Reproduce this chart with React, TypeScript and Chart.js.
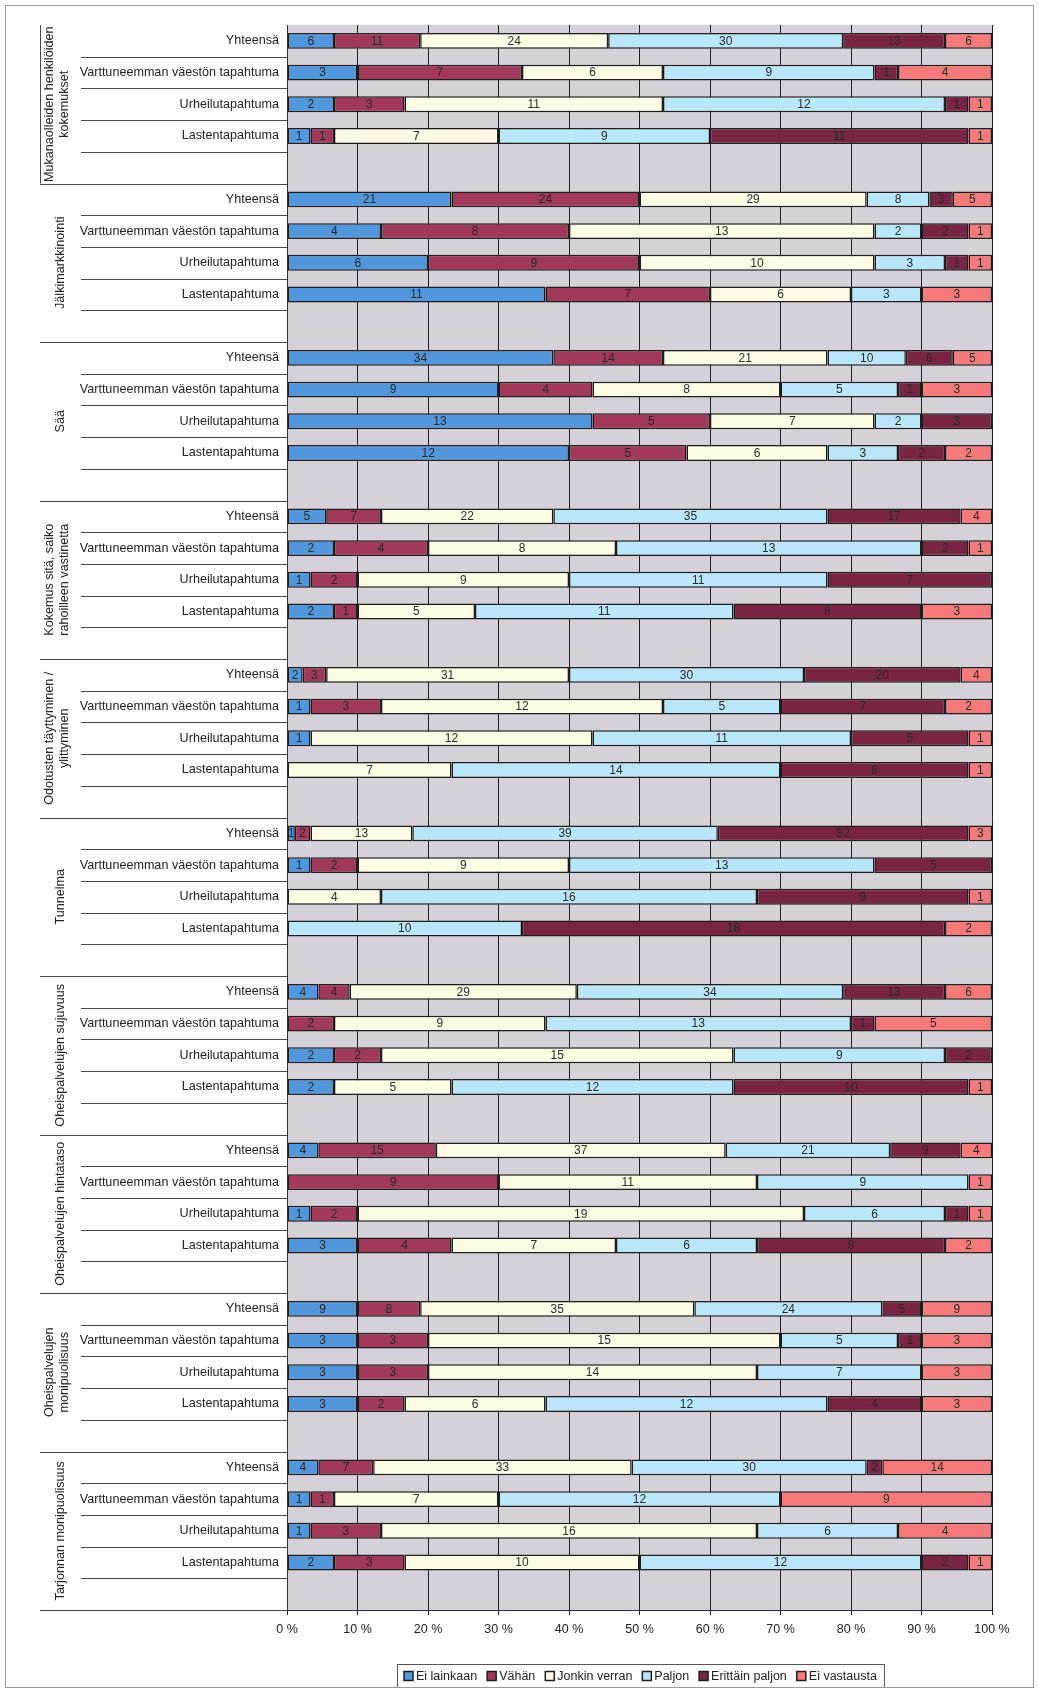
import React, { useEffect, useRef } from "react";
import { Chart, registerables } from "chart.js";

Chart.register(...registerables);

const FONT = '"Liberation Sans", Arial, sans-serif';

// Outer category level (one per block of rows)
const groupLabels = [
  ["Mukanaolleiden henkilöiden", "kokemukset"],
  ["Jälkimarkkinointi"],
  ["Sää"],
  ["Kokemus sitä, saiko", "rahoilleen vastinetta"],
  ["Odotusten täyttyminen /", "ylittyminen"],
  ["Tunnelma"],
  ["Oheispalvelujen sujuvuus"],
  ["Oheispalvelujen hintataso"],
  ["Oheispalvelujen", "monipuolisuus"],
  ["Tarjonnan monipuolisuus"],
];

// Inner category level (repeated inside every block)
const rowLabels = [
  "Yhteensä",
  "Varttuneemman väestön tapahtuma",
  "Urheilutapahtuma",
  "Lastentapahtuma",
];

const seriesNames = [
  "Ei lainkaan",
  "Vähän",
  "Jonkin verran",
  "Paljon",
  "Erittäin paljon",
  "Ei vastausta",
];

const seriesColors = ["#5296dc", "#a1395a", "#fdfbe4", "#b9e6f8", "#7a2444", "#f77a7a"];

// Answer counts, 4 rows per block (Yhteensä, Varttuneemman, Urheilu, Lasten)
const eiLainkaan = [
  6, 3, 2, 1,
  21, 4, 6, 11,
  34, 9, 13, 12,
  5, 2, 1, 2,
  2, 1, 1, 0,
  1, 1, 0, 0,
  4, 0, 2, 2,
  4, 0, 1, 3,
  9, 3, 3, 3,
  4, 1, 1, 2,
];
const vahan = [
  11, 7, 3, 1,
  24, 8, 9, 7,
  14, 4, 5, 5,
  7, 4, 2, 1,
  3, 3, 0, 0,
  2, 2, 0, 0,
  4, 2, 2, 0,
  15, 9, 2, 4,
  8, 3, 3, 2,
  7, 1, 3, 3,
];
const jonkinVerran = [
  24, 6, 11, 7,
  29, 13, 10, 6,
  21, 8, 7, 6,
  22, 8, 9, 5,
  31, 12, 12, 7,
  13, 9, 4, 0,
  29, 9, 15, 5,
  37, 11, 19, 7,
  35, 15, 14, 6,
  33, 7, 16, 10,
];
const paljon = [
  30, 9, 12, 9,
  8, 2, 3, 3,
  10, 5, 2, 3,
  35, 13, 11, 11,
  30, 5, 11, 14,
  39, 13, 16, 10,
  34, 13, 9, 12,
  21, 9, 6, 6,
  24, 5, 7, 12,
  30, 12, 6, 12,
];
const erittainPaljon = [
  13, 1, 1, 11,
  3, 2, 1, 0,
  6, 1, 3, 2,
  17, 2, 7, 8,
  20, 7, 5, 8,
  32, 5, 9, 18,
  13, 1, 2, 10,
  9, 0, 1, 8,
  5, 1, 0, 4,
  2, 0, 0, 2,
];
const eiVastausta = [
  6, 4, 1, 1,
  5, 1, 1, 3,
  5, 3, 0, 2,
  4, 1, 0, 3,
  4, 2, 1, 1,
  3, 0, 1, 2,
  6, 5, 0, 1,
  4, 1, 1, 2,
  9, 3, 3, 3,
  14, 9, 4, 1,
];

const xTicks = [0, 10, 20, 30, 40, 50, 60, 70, 80, 90, 100];

const allSeries = [eiLainkaan, vahan, jonkinVerran, paljon, erittainPaljon, eiVastausta];
const SLOTS_PER_GROUP = 5; // 4 rows + one blank row

function buildChartData() {
  const labels: string[] = [];
  groupLabels.forEach(() => {
    rowLabels.forEach((r) => labels.push(r));
    labels.push("");
  });
  const totals = eiLainkaan.map((_, i) => allSeries.reduce((s, arr) => s + arr[i], 0));
  const datasets = allSeries.map((arr, si) => {
    const pct: (number | null)[] = [];
    const counts: (number | null)[] = [];
    groupLabels.forEach((_, g) => {
      for (let r = 0; r < SLOTS_PER_GROUP; r++) {
        if (r < rowLabels.length) {
          const idx = g * rowLabels.length + r;
          const c = arr[idx];
          pct.push(c > 0 ? (c / totals[idx]) * 100 : null);
          counts.push(c > 0 ? c : null);
        } else {
          pct.push(null);
          counts.push(null);
        }
      }
    });
    return {
      label: seriesNames[si],
      data: pct,
      counts,
      backgroundColor: seriesColors[si],
      borderColor: "#1e1e1e",
      borderWidth: 1.5,
      borderSkipped: false as const,
      categoryPercentage: 1,
      barPercentage: 0.5,
    };
  });
  return { labels, datasets };
}

const plotBackground = {
  id: "plotBackground",
  beforeDraw(chart: any) {
    const { ctx, chartArea } = chart;
    ctx.save();
    ctx.fillStyle = "#ffffff";
    ctx.fillRect(0, 0, chart.width, chart.height);
    ctx.fillStyle = "#d6d0d8";
    ctx.fillRect(chartArea.left, chartArea.top, chartArea.right - chartArea.left, chartArea.bottom - chartArea.top);
    ctx.restore();
  },
};

const valueLabels = {
  id: "valueLabels",
  afterDatasetsDraw(chart: any) {
    const { ctx } = chart;
    ctx.save();
    ctx.font = `12px ${FONT}`;
    ctx.fillStyle = "#2a2a2a";
    ctx.textAlign = "center";
    ctx.textBaseline = "middle";
    chart.data.datasets.forEach((ds: any, di: number) => {
      const meta = chart.getDatasetMeta(di);
      meta.data.forEach((el: any, i: number) => {
        const c = ds.counts[i];
        if (c == null) return;
        const x = (el.x + el.base) / 2;
        ctx.fillText(String(c), x, el.y + 0.5);
      });
    });
    ctx.restore();
  },
};

const categoryFrame = {
  id: "categoryFrame",
  afterDraw(chart: any) {
    const { ctx, chartArea } = chart;
    const y = chart.scales.y;
    const n = chart.data.labels.length;
    const slotEdge = (i: number) => {
      if (i <= 0) return chartArea.top;
      if (i >= n) return chartArea.bottom;
      return (y.getPixelForValue(i - 1) + y.getPixelForValue(i)) / 2;
    };
    ctx.save();
    ctx.strokeStyle = "#4a4a4a";
    ctx.lineWidth = 1;
    for (let i = 1; i <= n; i++) {
      const yy = Math.round(slotEdge(i)) + 0.5;
      const groupEnd = i % SLOTS_PER_GROUP === 0;
      ctx.beginPath();
      ctx.moveTo(groupEnd ? 40 : 81, yy);
      ctx.lineTo(chartArea.left, yy);
      ctx.stroke();
    }
    // vertical rule beside the first block label
    ctx.beginPath();
    ctx.moveTo(40.5, chartArea.top);
    ctx.lineTo(40.5, slotEdge(SLOTS_PER_GROUP));
    ctx.stroke();

    // rotated block labels
    ctx.fillStyle = "#222";
    ctx.font = `12.6px ${FONT}`;
    ctx.textAlign = "center";
    ctx.textBaseline = "middle";
    groupLabels.forEach((lines, g) => {
      const top = slotEdge(g * SLOTS_PER_GROUP);
      const bottom = slotEdge((g + 1) * SLOTS_PER_GROUP);
      const cy = (top + bottom) / 2;
      const xs = lines.length === 1 ? [61] : [50, 65];
      lines.forEach((t, li) => {
        ctx.save();
        ctx.translate(xs[li], cy);
        ctx.rotate(-Math.PI / 2);
        ctx.fillText(t, 0, 0);
        ctx.restore();
      });
    });

    // legend
    ctx.font = `12.5px ${FONT}`;
    ctx.textAlign = "left";
    const box = 9;
    const widths = seriesNames.map((s) => box + 3 + ctx.measureText(s).width);
    const gap = 10;
    const total = widths.reduce((a, b) => a + b, 0) + gap * (widths.length - 1);
    const lx0 = 404;
    const ly = 1676;
    ctx.strokeStyle = "#555";
    ctx.lineWidth = 1;
    ctx.strokeRect(397.5, 1664.5, total + 14, 23);
    let lx = lx0;
    seriesNames.forEach((s, i) => {
      ctx.fillStyle = seriesColors[i];
      ctx.fillRect(lx, ly - box / 2, box, box);
      ctx.strokeStyle = "#1e1e1e";
      ctx.lineWidth = 1.5;
      ctx.strokeRect(lx, ly - box / 2, box, box);
      ctx.fillStyle = "#222";
      ctx.fillText(s, lx + box + 3, ly + 0.5);
      lx += widths[i] + gap;
    });

    // outer frame
    ctx.strokeStyle = "#9a9a9a";
    ctx.lineWidth = 1;
    ctx.strokeRect(5.5, 5.5, 1028, 1682);
    ctx.restore();
  },
};

export default function App() {
  const ref = useRef<HTMLCanvasElement | null>(null);
  useEffect(() => {
    if (!ref.current) return;
    const chart = new Chart(ref.current, {
      type: "bar",
      data: buildChartData() as any,
      options: {
        animation: false,
        responsive: false,
        devicePixelRatio: 1,
        indexAxis: "y",
        layout: { padding: { top: 25, right: 47, bottom: 40, left: 0 } },
        plugins: { legend: { display: false }, tooltip: { enabled: false } },
        scales: {
          x: {
            stacked: true,
            min: 0,
            max: 100,
            afterBuildTicks: (s: any) => {
              s.ticks = xTicks.map((v) => ({ value: v }));
            },
            ticks: {
              callback: (v: any) => `${v} %`,
              font: { family: FONT, size: 12.5 },
              color: "#222",
              padding: 7,
              maxRotation: 0,
            },
            grid: { color: "#1e1e1e", lineWidth: 1, tickLength: 5 },
            border: { color: "#333", width: 1 },
            afterFit: (s: any) => {
              s.height = 42;
            },
          },
          y: {
            stacked: true,
            ticks: {
              autoSkip: false,
              font: { family: FONT, size: 12.6 },
              color: "#222",
              padding: 8,
            },
            grid: { display: false, drawTicks: false },
            border: { display: true, color: "#333", width: 1 },
            afterFit: (s: any) => {
              s.width = 287;
            },
          },
        },
      } as any,
      plugins: [plotBackground, valueLabels, categoryFrame],
    });
    return () => chart.destroy();
  }, []);
  return (
    <div style={{ position: "absolute", left: 0, top: 0, width: 1039, height: 1692 }}>
      <canvas ref={ref} width={1039} height={1692} style={{ display: "block" }} />
    </div>
  );
}
